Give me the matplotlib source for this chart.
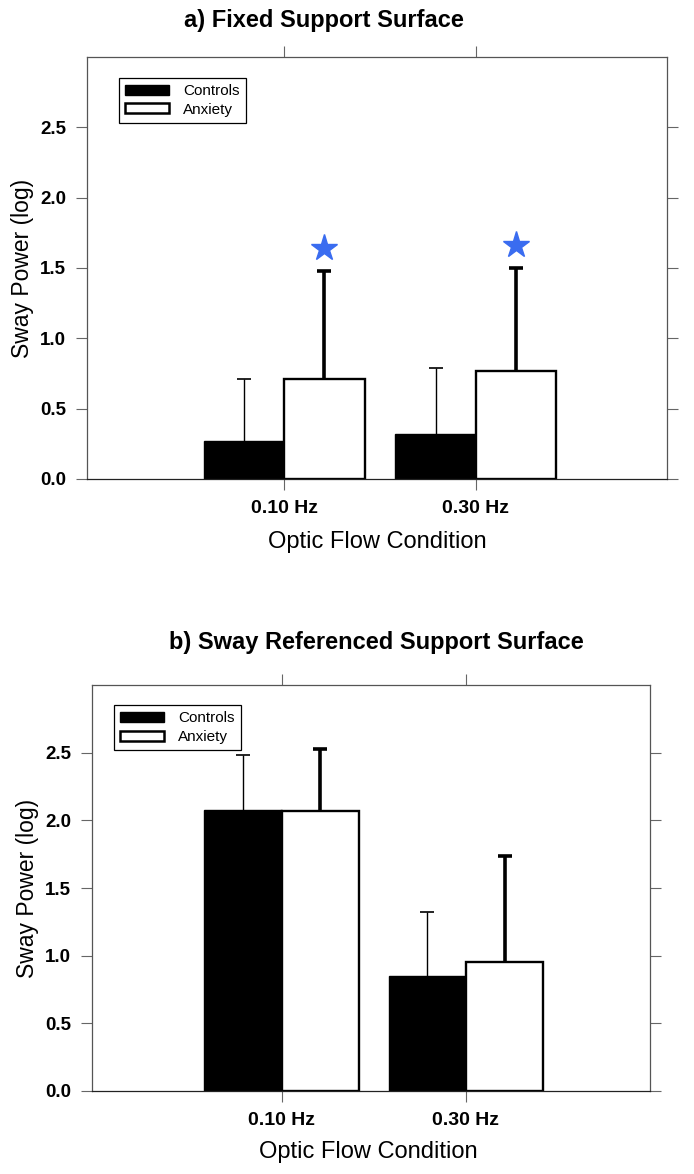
import numpy as np
import matplotlib
matplotlib.use('Agg')
import matplotlib.pyplot as plt
from matplotlib.patches import Patch

# data
conditions = ['0.10 Hz', '0.30 Hz']
groups = ['Controls', 'Anxiety']

fixed_controls = [0.27, 0.32]
fixed_controls_err = [0.44, 0.47]
fixed_anxiety = [0.71, 0.77]
fixed_anxiety_err = [0.77, 0.73]
fixed_star_y = [1.64, 1.66]

sway_controls = [2.08, 0.85]
sway_controls_err = [0.40, 0.47]
sway_anxiety = [2.07, 0.95]
sway_anxiety_err = [0.46, 0.79]

yticks = [0.0, 0.5, 1.0, 1.5, 2.0, 2.5]

font = ['Liberation Sans', 'DejaVu Sans']
star_blue = '#3a6cf0'
w = 0.42


def panel(ax, controls, c_err, anxiety, a_err, ylab_x, xlab_xy, leg_x, stars=None):
    x = np.arange(1, len(conditions) + 1)
    ax.bar(x - w, controls, w, align='edge', color='black', edgecolor='black', lw=1, zorder=2)
    ax.bar(x, anxiety, w, align='edge', color='white', edgecolor='black', lw=1.7, zorder=2)
    # upper error bars only (hide the cap at the bar top)
    eb = ax.errorbar(x - w / 2, controls, yerr=[np.zeros(len(x)), c_err], fmt='none',
                     ecolor='black', elinewidth=1.0, capsize=4.7, capthick=1.2, zorder=1)
    eb[1][0].set_visible(False)
    eb = ax.errorbar(x + w / 2, anxiety, yerr=[np.zeros(len(x)), a_err], fmt='none',
                     ecolor='black', elinewidth=2.6, capsize=4.7, capthick=2.6, zorder=1)
    eb[1][0].set_visible(False)
    if stars is not None:
        ax.plot(x + w / 2, stars, marker='*', ls='none', ms=20, color=star_blue, mec=star_blue)
    ax.set_xlim(-0.03, 3.0)
    ax.set_ylim(0, 3.0)
    ax.set_xticks(x)
    ax.set_xticklabels(conditions, family=font, fontweight='bold', fontsize=14)
    ax.set_yticks(yticks)
    ax.set_yticklabels(['%.1f' % t for t in yticks], family=font, fontweight='bold', fontsize=13.5)
    ax.tick_params(direction='out', length=8, width=0.8, color='#666666',
                   top=True, right=True, pad=7)
    for s in ax.spines.values():
        s.set_color('#555555')
        s.set_linewidth(0.9)
    ax.spines['bottom'].set_color('#222222')
    ax.set_ylabel('Sway Power (log)', family=font, fontsize=16.5, va='center')
    ax.yaxis.set_label_coords(ylab_x, 0.5)
    ax.set_xlabel('Optic Flow Condition', family=font, fontsize=17, va='center')
    ax.xaxis.set_label_coords(*xlab_xy)
    handles = [Patch(facecolor='black', edgecolor='black'),
               Patch(facecolor='white', edgecolor='black', lw=1.8)]
    leg = ax.legend(handles, groups, loc='upper left', bbox_to_anchor=(leg_x, 0.95),
                    borderaxespad=0, prop={'family': font, 'size': 11}, fancybox=False,
                    edgecolor='black', framealpha=1, handlelength=2.9, handleheight=0.65,
                    borderpad=0.4, labelspacing=0.3, handletextpad=0.9)
    leg.get_frame().set_linewidth(0.9)


fig = plt.figure(figsize=(6.94, 11.74), dpi=100)
ax1 = fig.add_axes([0.1254, 0.592, 0.836, 0.3595])
ax2 = fig.add_axes([0.1326, 0.0707, 0.804, 0.3458])

panel(ax1, fixed_controls, fixed_controls_err, fixed_anxiety, fixed_anxiety_err,
      -0.112, (0.5, -0.149), 0.055, fixed_star_y)
panel(ax2, sway_controls, sway_controls_err, sway_anxiety, sway_anxiety_err,
      -0.115, (0.496, -0.150), 0.039)

fig.text(324 / 694, 1 - 21 / 1174, 'a) Fixed Support Surface', ha='center', va='center',
         family=font, fontweight='bold', fontsize=17)
fig.text(376 / 694, 1 - 643 / 1174, 'b) Sway Referenced Support Surface', ha='center',
         va='center', family=font, fontweight='bold', fontsize=17)

fig.savefig('out.png', dpi=100)
